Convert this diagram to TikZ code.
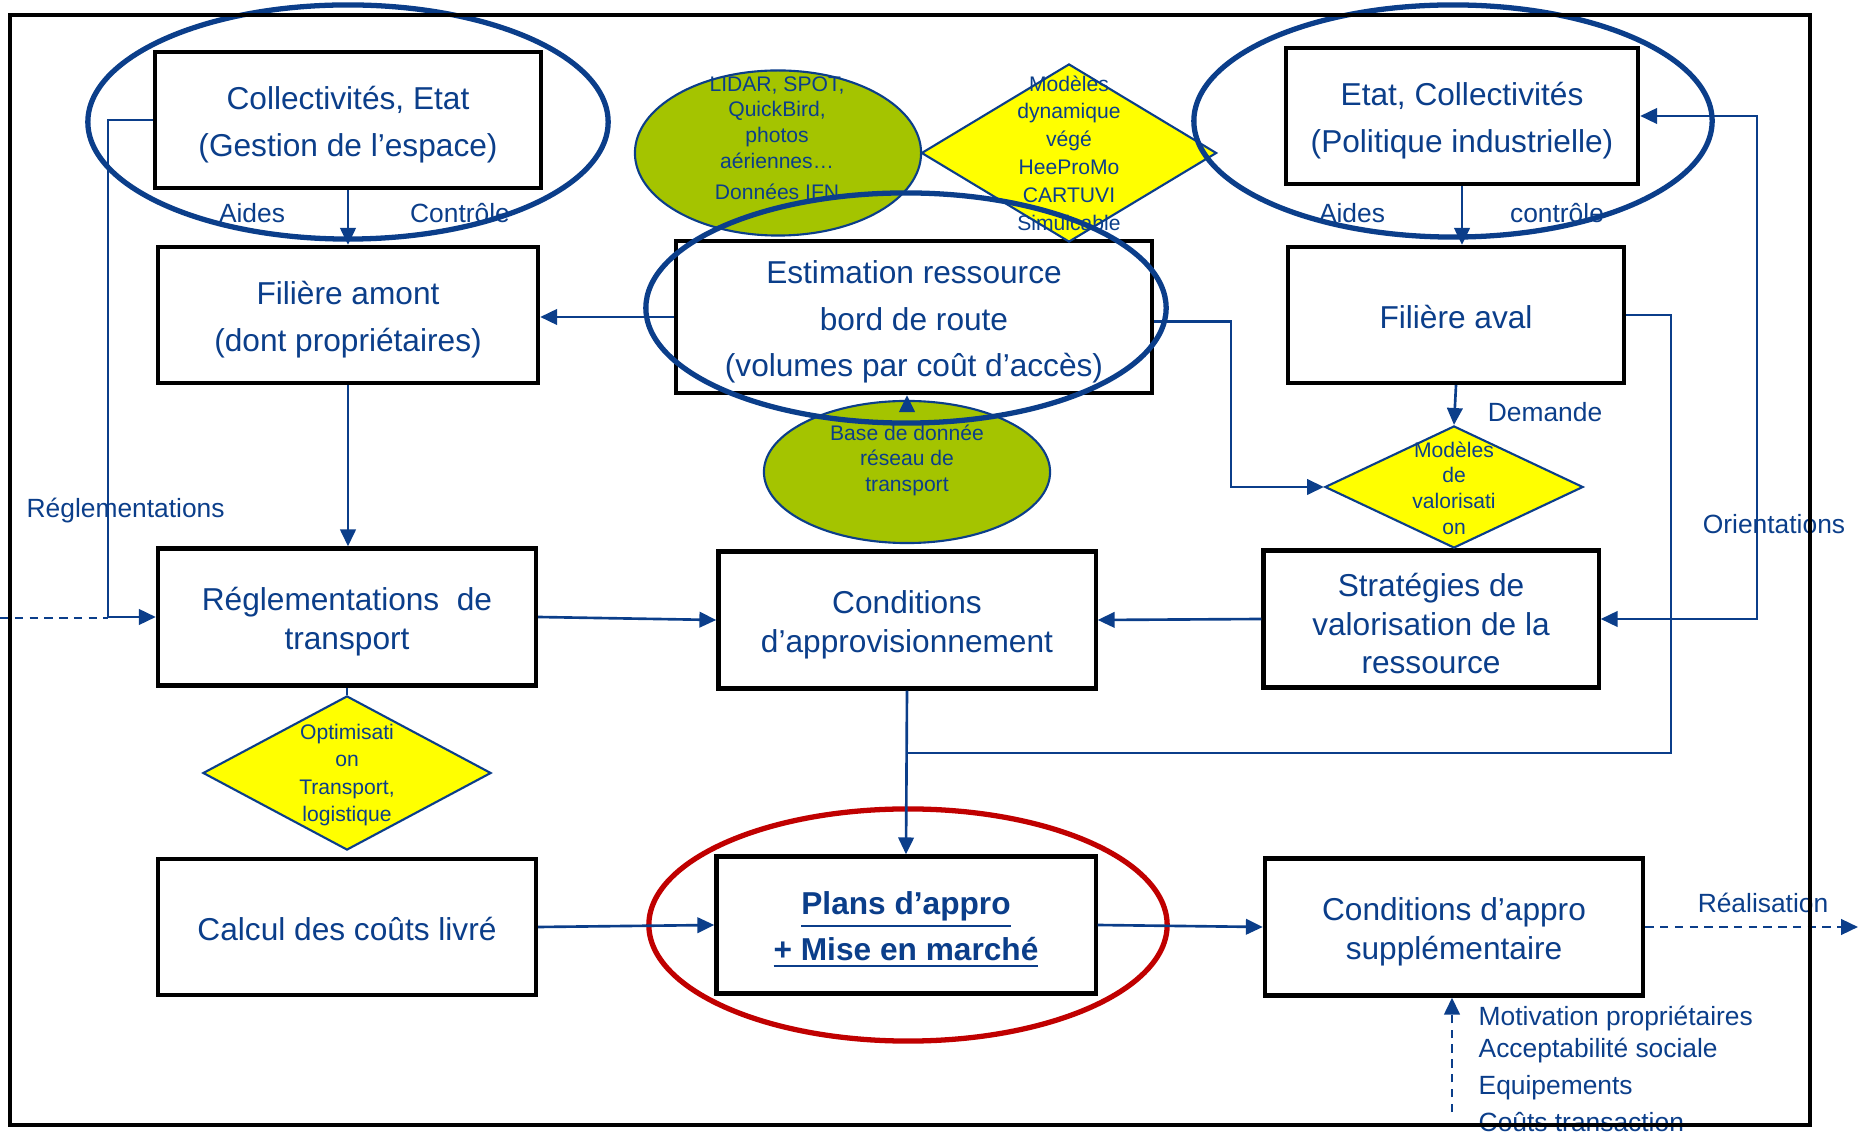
\documentclass[tikz,border=0pt]{standalone}
\usepackage{fontspec}
\setmainfont{Liberation Sans}
\usetikzlibrary{arrows.meta,shapes.geometric,calc}
\definecolor{navy}{HTML}{0B3E8A}
\definecolor{yellownode}{HTML}{FFFF00}
\definecolor{greennode}{HTML}{A4C400}
\definecolor{redring}{HTML}{C00000}
\newcommand{\tstrut}{\rule{0pt}{9.3pt}}
\tikzset{
       arr/.style = {draw=navy, line width=0.75pt, -{Triangle[length=4.8pt,width=4.4pt]}},   % <--- connector heads
      darr/.style = {draw=navy, line width=0.75pt, {Triangle[length=4.8pt,width=4.4pt]}-{Triangle[length=4.8pt,width=4.4pt]}},
      conn/.style = {draw=navy, line width=0.75pt},
     dconn/.style = {conn, dash pattern=on 2.4pt off 1.8pt},
      base/.style = {draw, line width=1.2pt, fill=white, text=navy, % <---
                     inner sep=0pt, align=center,
                     execute at begin node={\rule{0pt}{#1}},
                     font=\fontsize{9}{13.3}\selectfont},
      base/.default = 8pt,
   process/.style = {base=#1, font=\fontsize{9}{11}\selectfont},
   process/.default = 8pt,
  decision/.style = {diamond, draw=navy, line width=0.6pt, fill=yellownode, inner sep=0pt},
    source/.style = {ellipse, draw=navy, line width=0.6pt, fill=greennode, inner sep=0pt},
  smalltxt/.style = {text=navy, align=center, inner sep=0pt, font=\fontsize{6}{7.3}\selectfont},
       lbl/.style = {text=navy, inner sep=0pt, font=\fontsize{7.5}{9}\selectfont},
      zone/.style = {draw=navy, line width=1.5pt},
        }

\begin{document}
\begin{tikzpicture}[x=0.01cm, y=-0.01cm]
\useasboundingbox (0,0) rectangle (1860,1134);

  \node[base, minimum width=3.86cm, minimum height=1.36cm] (colE) at (348,120) {\tstrut Collectivités, Etat\\(Gestion de l’espace)};
  \node[base, minimum width=3.52cm, minimum height=1.36cm] (etatC) at (1462,116) {\tstrut Etat, Collectivités\\(Politique industrielle)};
  \node[base, minimum width=3.80cm, minimum height=1.36cm] (amont) at (348,315) {\tstrut Filière amont\\(dont propriétaires)};
  \node[base, minimum width=4.76cm, minimum height=1.52cm] (estim) at (914,317) {\tstrut Estimation ressource\\bord de route\\(volumes par coût d’accès)};
  \node[base, minimum width=3.36cm, minimum height=1.36cm] (aval) at (1456,315) {Filière aval};

  \node[process, minimum width=3.78cm, minimum height=1.37cm] (regl) at (347,617) {\tstrut Réglementations~~de\\transport};
  \node[process, minimum width=3.77cm, minimum height=1.37cm] (cond) at (907,620) {\tstrut Conditions\\d’approvisionnement};
  \node[process, minimum width=3.35cm, minimum height=1.37cm] (strat) at (1431,619) {\tstrut Stratégies de\\valorisation de la\\ressource};

  \node[process, minimum width=3.78cm, minimum height=1.36cm] (couts) at (347,927) {Calcul des coûts livré};
  \node[base, minimum width=3.79cm, minimum height=1.37cm, font=\fontsize{9}{13.1}\selectfont\bfseries] (plans) at (906,925) {\tstrut\underline{Plans d’appro}\\\underline{+ Mise en marché}};
  \node[process, minimum width=3.78cm, minimum height=1.37cm] (supp) at (1454,927) {\tstrut Conditions d’appro\\supplémentaire};

  \node[source, minimum width=2.86cm, minimum height=1.65cm] (lidar) at (778,153) {};
  \node[smalltxt] (lidartxt) at (777,138) {LIDAR, SPOT,\\QuickBird,\\photos\\aériennes…\\[1.6pt]Données IFN};
  \node[decision, minimum width=2.95cm, minimum height=1.78cm] (dyn) at (1069,153) {};
  \node[smalltxt, font=\fontsize{6}{7.9}\selectfont] (dyntxt) at (1069,153) {Modèles\\dynamique\\végé\\HeeProMo\\CARTUVI\\Simulcable};
  \node[source, minimum width=2.86cm, minimum height=1.42cm] (bdd) at (907,472) {};
  \node[smalltxt, font=\fontsize{6}{7.25}\selectfont] (bddtxt) at (907,460) {Base de donnée\\réseau de\\transport};
  \node[decision, minimum width=2.58cm, minimum height=1.22cm] (valo) at (1454,487) {};
  \node[smalltxt] (valotxt) at (1454,488) {Modèles\\de\\valorisati\\on};
  \node[decision, minimum width=2.88cm, minimum height=1.54cm] (optim) at (347,773) {};
  \node[smalltxt, font=\fontsize{6}{7.8}\selectfont] (optimtxt) at (347,775) {Optimisati\\on\\Transport,\\logistique};

  \node[lbl] (aidesE) at (252,213) {Aides};
  \node[lbl] (ctrlE) at (460,213) {Contrôle};
  \node[lbl] (aidesC) at (1352,213) {Aides};
  \node[lbl] (ctrlC) at (1557,213) {contrôle};
  \node[lbl, anchor=west] (regltxt) at (26,511) {Réglementations};
  \node[lbl] (dem) at (1545,412) {Demande};
  \node[lbl] (orient) at (1774,524) {Orientations};
  \node[lbl] (real) at (1763,903) {Réalisation};
  \node[lbl, anchor=west, align=left, font=\fontsize{7.5}{9.1}\selectfont] (facteurs) at (1478,1069) {Motivation propriétaires\\Acceptabilité sociale\\[1.5pt]Equipements\\[1.5pt]Coûts transaction};

  \draw[zone] (348,122) ellipse [x radius=2.6cm, y radius=1.17cm];
  \draw[zone] (1453,121) ellipse [x radius=2.59cm, y radius=1.16cm];
  \draw[zone] (906,308) ellipse [x radius=2.6cm, y radius=1.15cm];
  \draw[zone, draw=redring] (908,925) ellipse [x radius=2.59cm, y radius=1.16cm];

  \coordinate (lft) at (108,0);
  \coordinate (entree) at (0,618);
  \coordinate (bendE) at (1231,0);
  \coordinate (rgt) at (1671,753);
  \coordinate (orl) at (1757,0);
  \coordinate (sortie) at (1858,930);
  \coordinate (facbot) at (1452,1112);

  \draw[arr] (colE.south) -- (amont.north);
  \draw[arr] (etatC.south) -- (etatC.south |- aval.north);
  \draw[arr] (amont.south) -- (amont.south |- regl.north);
  \draw[arr] (estim.west) -- (estim.west -| amont.east);
  \draw[arr] (colE.west) -| (lft |- regl.west) -- (regl.west);
  \draw[dconn] (entree) -- (entree -| lft);
  \draw[arr] (regl.east) -- (cond.west);
  \draw[arr] (strat.west) -- (cond.east);
  \draw[arr] ([yshift=-1.2pt]estim.east) -| (bendE |- valo.west) -- (valo.west);
  \draw[arr] (aval.south) -- (valo.north);
  \draw[conn] (aval.east) -| (rgt) -- (rgt -| cond.south);
  \draw[arr] (cond.south) -- (plans.north);
  \draw[darr] (etatC.east) -| (orl |- strat.east) -- (strat.east);
  \draw[arr] (couts.east) -- (plans.west);
  \draw[arr] (plans.east) -- (supp.west);
  \draw[dconn, -{Triangle[length=4.8pt,width=4.4pt]}] (supp.east) -- (supp.east -| sortie);
  \draw[dconn, -{Triangle[length=4.8pt,width=4.4pt]}] (facbot) -- (facbot |- supp.south);
  \draw[arr] (bdd.north) -- (bdd.north |- estim.south);
  \draw[conn] (regl.south) -- (optim.north);

  \draw[line width=1.2pt] (10,15) rectangle (1810,1125);
\end{tikzpicture}
\end{document}
